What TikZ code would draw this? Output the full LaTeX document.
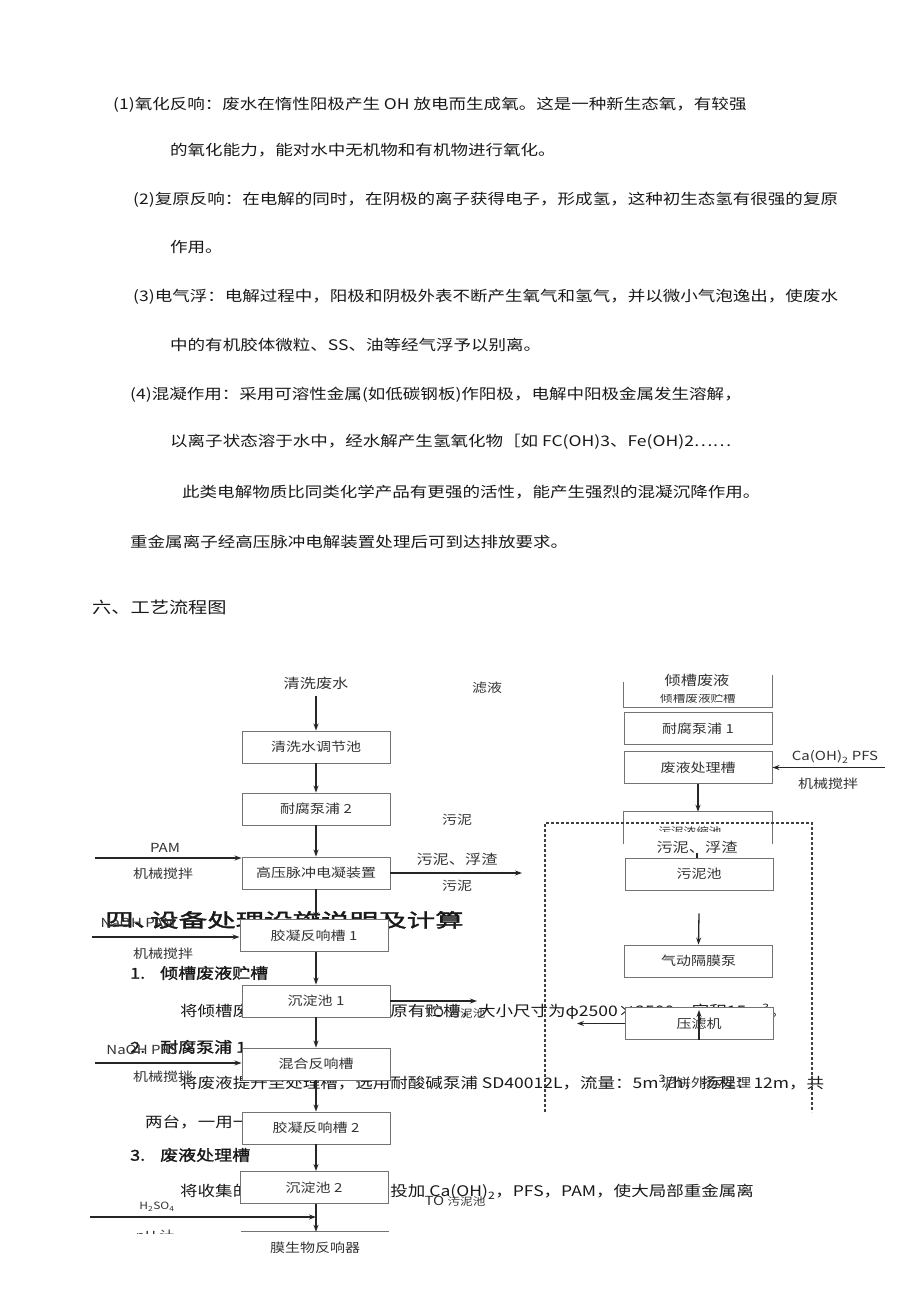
\documentclass[tikz,border=0pt]{standalone}
\usepackage{fontspec}
\setmainfont{Noto Sans CJK SC}[FakeStretch=1.2]
\newfontfamily\headfont{Noto Sans CJK SC}[FakeStretch=1.5,FakeBold=2]
\newfontfamily\subheadfont{Noto Sans CJK SC}[FakeStretch=1.2,FakeBold=1.5]
\usetikzlibrary{positioning,arrows.meta}

\begin{document}
\begin{tikzpicture}[x=1pt,y=-1pt,
  bodytxt/.style={anchor=west,inner sep=0pt,text=black!90,font=\fontsize{14.6}{17}\selectfont},
  secttxt/.style={anchor=west,inner sep=0pt,text=black!90,font=\subheadfont\fontsize{15}{17}\selectfont},
  headtxt/.style={anchor=west,inner sep=0pt,text=black!90,font=\headfont\fontsize{19}{21}\selectfont},
  lbl/.style={inner sep=0pt,text=black!80,font=\fontsize{12.5}{14}\selectfont},
  procbox/.style={draw=black!55,fill=white,line width=0.9pt,minimum width=148pt,minimum height=32pt,inner sep=0pt,text=black!80,font=\fontsize{12.5}{14}\selectfont},
  hollow/.style={minimum width=148pt,minimum height=32pt,inner sep=0pt},
  partbox/.style={line width=0.9pt,black!55},
  flow/.style={-{Stealth[length=7pt,width=5pt]},line width=1.3pt,black!85},
  dashframe/.style={dash pattern=on 3pt off 2pt,line width=1.1pt,black!75}
]
\useasboundingbox (0,0) rectangle (920,1301);

% Body Text
\node[bodytxt] (t1) at (113,105) {(1)氧化反响：废水在惰性阳极产生 OH 放电而生成氧。这是一种新生态氧，有较强};
\node[bodytxt] (t2) at (170,150) {的氧化能力，能对水中无机物和有机物进行氧化。};
\node[bodytxt] (t3) at (133,200) {(2)复原反响：在电解的同时，在阴极的离子获得电子，形成氢，这种初生态氢有很强的复原};
\node[bodytxt] (t4) at (170,247) {作用。};
\node[bodytxt] (t5) at (133,297) {(3)电气浮：电解过程中，阳极和阴极外表不断产生氧气和氢气，并以微小气泡逸出，使废水};
\node[bodytxt] (t6) at (170,345) {中的有机胶体微粒、SS、油等经气浮予以别离。};
\node[bodytxt] (t7) at (130,395) {(4)混凝作用：采用可溶性金属(如低碳钢板)作阳极，电解中阳极金属发生溶解，};
\node[bodytxt] (t8) at (170,442) {以离子状态溶于水中，经水解产生氢氧化物［如 FC(OH)3、Fe(OH)2……};
\node[bodytxt] (t9) at (182,492) {此类电解物质比同类化学产品有更强的活性，能产生强烈的混凝沉降作用。};
\node[bodytxt] (t10) at (130,542) {重金属离子经高压脉冲电解装置处理后可到达排放要求。};
\node[bodytxt,font=\fontsize{16}{18}\selectfont] (h6) at (92,607) {六、工艺流程图};

% Lower Text (under the chart)
\node[headtxt] (h4a) at (105,920) {四、};
\node[headtxt] (h4b) at (150,920) {设备处理设施说明及计算};
\node[secttxt] (s1) at (130,973) {\makebox[30pt][l]{1.}倾槽废液贮槽};
\node[bodytxt] (u1) at (180,1012) {将倾槽废液收集于此，采用原有贮槽，大小尺寸为φ2500×2500，容积15m\textsuperscript{3}。};
\node[secttxt] (s2) at (130,1047) {\makebox[30pt][l]{2.}耐腐泵浦 1};
\node[bodytxt] (u2) at (180,1083) {将废液提升至处理槽，选用耐酸碱泵浦 SD40012L，流量：5m\textsuperscript{3}/h，扬程：12m，共};
\node[bodytxt] (u3) at (145,1122) {两台，一用一备。};
\node[secttxt] (s3) at (130,1155) {\makebox[30pt][l]{3.}废液处理槽};
\node[bodytxt] (u4) at (180,1192) {将收集的废液进行预处理，投加 Ca(OH)\textsubscript{2}，PFS，PAM，使大局部重金属离};

% Left Column
\node[lbl,font=\fontsize{13.5}{15}\selectfont] (w0) at (316,683) {清洗废水};
\node[procbox] (a1) at (316,747) {清洗水调节池};
\node[procbox] (a2) at (316,809) {耐腐泵浦 2};
\node[procbox] (a3) at (316,873) {高压脉冲电凝装置};
\node[procbox] (a4) at (314,935.5) {胶凝反响槽 1};
\node[procbox] (a5) at (316,1001) {沉淀池 1};
\node[procbox] (a6) at (316,1064) {混合反响槽};
\node[procbox] (a7) at (316,1128) {胶凝反响槽 2};
\node[procbox] (a8) at (314,1187.5) {沉淀池 2};
\node[hollow,lbl] (a9) at (315,1248) {膜生物反响器};
\draw[partbox] (a9.north west) -- (a9.north east);

\draw[flow] ([yshift=-7pt]w0.south) -- (a1.north);
\draw[flow] (a1) -- (a2);
\draw[flow] (a2) -- (a3);
\draw[flow] (a3.south) -- (a3.south |- a4.north);
\draw[flow] (a4.south -| a3.south) -- (a5.north);
\draw[flow] (a5) -- (a6);
\draw[flow] (a6) -- (a7);
\draw[flow] (a7.south) -- (a7.south |- a8.north);
\draw[flow] (a8.south -| a7.south) -- (a7.south |- a9.north);

% Dosing Inputs
\coordinate (p1) at (95,858);
\draw[flow] (p1) -- (p1 -| a3.west);
\node[lbl] (p1t) at (165,848) {PAM};
\node[lbl] (p1s) at (163,874) {机械搅拌};
\coordinate (p2) at (92,937);
\draw[flow] (p2) -- (p2 -| a4.west);
\node[lbl] (p2t) at (138,923) {NaOH PAM};
\node[lbl] (p2s) at (163,954) {机械搅拌};
\coordinate (p3) at (95,1063);
\draw[flow] (p3) -- (p3 -| a6.west);
\node[lbl] (p3t) at (142,1050) {NaOH PFS};
\node[lbl] (p3s) at (163,1077) {机械搅拌};
\coordinate (p4) at (90,1217);
\draw[flow] (p4) -- (p4 -| a7.south);
\node[lbl,font=\fontsize{10}{12}\selectfont] (p4t) at (157,1207) {H\textsubscript{2}SO\textsubscript{4}};
\begin{scope}
  \clip (90,1200) rectangle (238,1233);
  \node[lbl] (p4s) at (155,1237) {pH 计};
\end{scope}

% Outputs
\coordinate (o1) at (522,873);
\draw[flow] (a3.east) -- (o1);
\node[lbl] (o1a) at (457,820) {污泥};
\node[lbl,font=\fontsize{13.5}{15}\selectfont] (o1b) at (457,859) {污泥、浮渣};
\node[lbl] (o1c) at (457,886) {污泥};
\node[lbl] (f1) at (487,688) {滤液};
\coordinate (o2) at (477,1001);
\draw[flow] (a5.east) -- (o2);
\node[lbl] (o2t) at (455,1013) {TO {\fontsize{10.5}{12}\selectfont 污泥池}};
\node[lbl] (o3t) at (455,1201) {TO {\fontsize{10.5}{12}\selectfont 污泥池}};

% Right Column
\node[lbl,font=\fontsize{13.5}{15}\selectfont] (w1) at (697,680) {倾槽废液};
\node[hollow] (b0) at (698,691) {};
\draw[partbox] (b0.north west) ++(0,7) -- (b0.south west) -- (b0.south east) -- (b0.north east);
\begin{scope}
  \clip (620,694) rectangle (776,706);
  \node[lbl,font=\fontsize{10.5}{12}\selectfont] (b0t) at (698,699) {倾槽废液贮槽};
\end{scope}
\node[procbox] (b1) at (698,728.5) {耐腐泵浦 1};
\node[procbox] (b2) at (698,767.5) {废液处理槽};
\coordinate (c1) at (885,767.5);
\draw[flow] (c1) -- (b2.east);
\node[lbl] (c1t) at (835,757) {Ca(OH)\textsubscript{2} PFS};
\node[lbl] (c1s) at (828,784) {机械搅拌};
\node[hollow] (b3) at (698,828) {};
\draw[flow] (b2) -- (b3.north);
\draw[partbox] (b3.south west) -- (b3.north west) -- (b3.north east) -- (b3.south east);
\begin{scope}
  \clip (620,824) rectangle (776,831);
  \node[lbl,font=\fontsize{10.5}{12}\selectfont] (b3t) at (690,831) {污泥浓缩池};
\end{scope}
\node[lbl,font=\fontsize{13.5}{15}\selectfont] (s2r) at (697,847) {污泥、浮渣};
\node[procbox] (b4) at (699,874) {污泥池};
\draw[line width=1.3pt,black!85] (s2r) -- (s2r |- b4.north);
\node[procbox] (b5) at (698.5,961) {气动隔膜泵};
\draw[flow] ([yshift=-23pt]b4.south) -- (b5.north);
\node[procbox] (b6) at (699,1023.5) {压滤机};
\coordinate (c2) at (577,1023.5);
\draw[flow] (b6.west) -- (c2);
\node[lbl] (b7) at (706,1083) {泥饼外运处理};
\draw[flow] (b6.south) -- ++(0,-30);
\draw[dashframe] (545,1112) -- (545,823) -- (812,823) -- (812,1112);
\end{tikzpicture}
\end{document}
